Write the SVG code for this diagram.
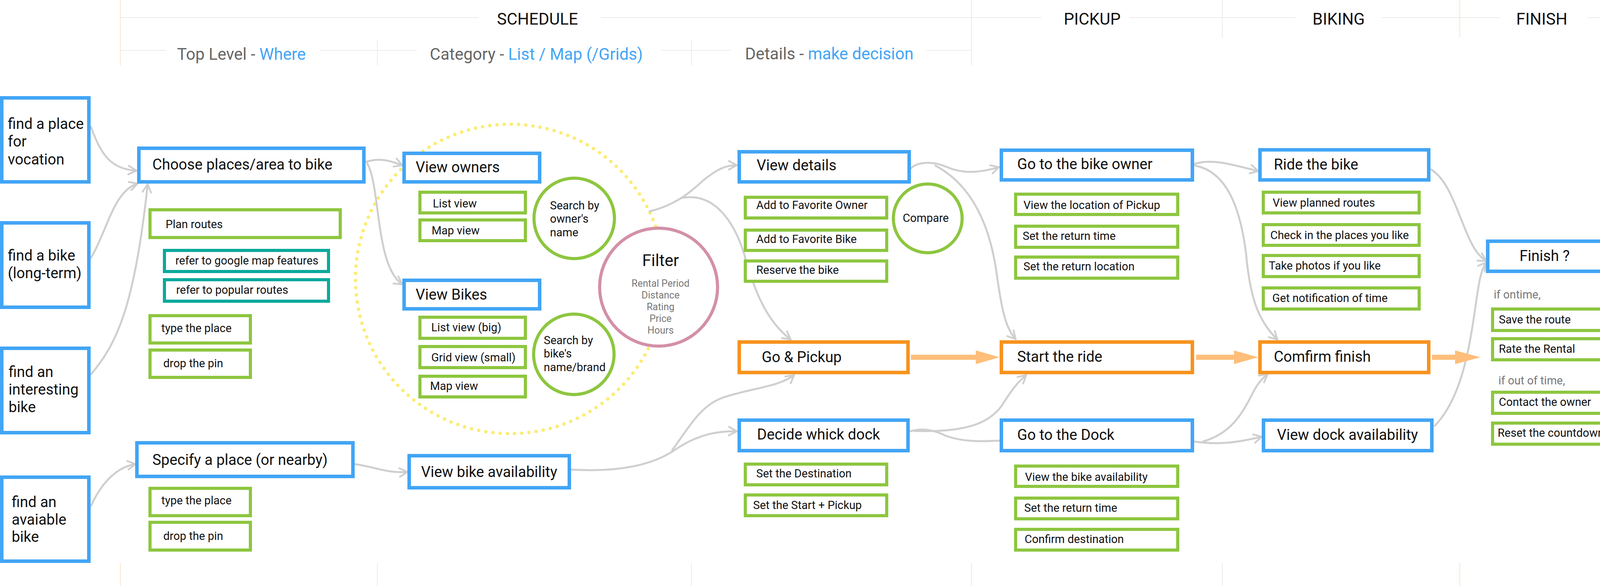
<svg xmlns="http://www.w3.org/2000/svg" width="4188" height="1500" viewBox="0 0 4188 1500">
<style>
text{font-family:Roboto,"Liberation Sans",sans-serif;fill:#111}
.hd{font-size:42px;text-anchor:middle}
.sub{font-size:42px;text-anchor:middle;fill:#666}
.hl{fill:#42A5F5}
.big{font-size:38px}
.sm{font-size:29px}
.gr{fill:#777}
.b{fill:#fff;stroke:#42A5F5;stroke-width:9}
.o{fill:#fff;stroke:#F7931E;stroke-width:9}
.g{fill:#fff;stroke:#8DC63F;stroke-width:8}
.t{fill:#fff;stroke:#0BA99C;stroke-width:8}
.gl{stroke:#ececec;stroke-width:2}
.ol{stroke:#fbe6cc;stroke-width:2}
.vl{stroke:#e6f1dc;stroke-width:2}
.c{fill:none;stroke:#cfcfcf;stroke-width:5;stroke-linecap:round}
.ca{marker-end:url(#ah)}
.oa{fill:#FFBE7A}
</style>
<defs>
<marker id="ah" markerUnits="userSpaceOnUse" markerWidth="30" markerHeight="30" viewBox="0 0 30 30" refX="27" refY="15" orient="auto">
<path d="M7,4 L27,15 L7,26" fill="none" stroke="#cfcfcf" stroke-width="4.5" stroke-linecap="round" stroke-linejoin="round"/>
</marker>
</defs>
<rect width="4188" height="1500" fill="#fff"/>
<g id="grid">
<line class="gl" x1="308" y1="45" x2="1224" y2="45"/>
<line class="gl" x1="1538" y1="45" x2="2666" y2="45"/>
<line class="gl" x1="2891" y1="45" x2="3316" y2="45"/>
<line class="gl" x1="3537" y1="45" x2="3841" y2="45"/>
<line class="gl" x1="4063" y1="45" x2="4159" y2="45"/>
<line class="gl" x1="308" y1="129" x2="425" y2="129"/>
<line class="gl" x1="820" y1="129" x2="1067" y2="129"/>
<line class="gl" x1="1692" y1="129" x2="1871" y2="129"/>
<line class="gl" x1="2371" y1="129" x2="2487" y2="129"/>
<line class="ol" x1="308" y1="0" x2="308" y2="167"/>
<line class="gl" x1="966" y1="103" x2="966" y2="167"/>
<line class="vl" x1="1770" y1="103" x2="1770" y2="167"/>
<line class="ol" x1="2487" y1="0" x2="2487" y2="167"/>
<line class="gl" x1="3129" y1="0" x2="3129" y2="96"/>
<line class="ol" x1="3737" y1="0" x2="3737" y2="96"/>
<line class="ol" x1="4162" y1="0" x2="4162" y2="167"/>
<line class="ol" x1="308" y1="1441" x2="308" y2="1500"/>
<line class="gl" x1="966" y1="1441" x2="966" y2="1500"/>
<line class="vl" x1="1770" y1="1441" x2="1770" y2="1500"/>
<line class="ol" x1="2487" y1="1441" x2="2487" y2="1500"/>
<line class="gl" x1="3129" y1="1441" x2="3129" y2="1500"/>
<line class="ol" x1="3737" y1="1441" x2="3737" y2="1500"/>
<line class="ol" x1="4162" y1="1441" x2="4162" y2="1500"/>
</g>
<g id="headers">
<text class="hd" x="1376" y="63">SCHEDULE</text>
<text class="hd" x="2796" y="63">PICKUP</text>
<text class="hd" x="3427" y="63">BIKING</text>
<text class="hd" x="3947" y="63">FINISH</text>
<text class="sub" x="618" y="153">Top Level - <tspan class="hl">Where</tspan></text>
<text class="sub" x="1373" y="153">Category - <tspan class="hl">List / Map (/Grids)</tspan></text>
<text class="sub" x="2123" y="152">Details - <tspan class="hl">make decision</tspan></text>
</g>
<g id="category-circle">
<circle cx="1306" cy="714" r="396" fill="none" stroke="#FCEC74" stroke-width="9" stroke-dasharray="0 18.5" stroke-linecap="round"/>
</g>
<g id="connectors">
<path class="c ca" d="M233,325 C260,400 285,432 349,437"/>
<path class="c ca" d="M233,660 C275,590 290,490 352,470"/>
<path class="c ca" d="M233,958 C300,880 345,780 378,472"/>
<path class="c ca" d="M233,1295 C260,1235 300,1195 347,1188"/>
<path class="c ca" d="M908,1188 C960,1195 990,1212 1043,1208"/>
<path class="c ca" d="M938,414 C975,403 1000,412 1030,423"/>
<path class="c ca" d="M940,418 C975,480 960,680 1030,728"/>
<path class="c ca" d="M1462,1202 C1600,1210 1680,1185 1730,1150 C1790,1110 1840,1103 1886,1104"/>
<path class="c ca" d="M1721,1152 C1760,1100 1790,1040 1850,1018 C1920,994 1995,990 2033,960"/>
<path class="c ca" d="M1663,541 C1730,525 1770,490 1800,462 C1840,430 1860,423 1886,423"/>
<path class="c ca" d="M1743,507 C1830,490 1880,570 1905,650 C1930,740 1960,820 2024,869"/>
<path class="c ca" d="M2330,433 C2345,415 2385,410 2425,428 C2465,445 2505,443 2557,428"/>
<path class="c ca" d="M2395,424 C2480,470 2530,560 2550,690 C2565,800 2575,840 2600,868"/>
<path class="c" d="M2330,1104 C2360,1095 2390,1100 2420,1115 C2465,1132 2510,1130 2559,1128"/>
<path class="c ca" d="M2340,1103 C2480,1108 2540,1080 2570,1030 C2595,990 2610,975 2627,960"/>
<path class="c ca" d="M3057,420 C3100,405 3150,420 3221,438"/>
<path class="c ca" d="M3060,424 C3140,440 3175,530 3190,650 C3200,760 3220,820 3270,869"/>
<path class="c ca" d="M3057,1130 C3120,1140 3170,1132 3230,1118"/>
<path class="c ca" d="M3080,1130 C3150,1110 3180,1060 3205,1010 C3220,980 3232,968 3245,958"/>
<path class="c ca" d="M3662,433 C3700,455 3720,510 3740,560 C3760,610 3775,650 3805,668"/>
<path class="c ca" d="M3673,1090 C3740,1020 3760,900 3775,800 C3785,730 3790,690 3805,672"/>
<polygon class="oa" points="2332,908 2498,908 2498,897 2559,914.5 2498,932 2498,921 2332,921"/>
<polygon class="oa" points="3062,908 3159,908 3159,897 3221,914.5 3159,932 3159,921 3062,921"/>
<polygon class="oa" points="3666,908 3725,908 3725,897 3790,914.5 3725,932 3725,921 3666,921"/>
</g>
<g id="find-place"><rect class="b" x="4.5" y="250.5" width="223" height="215"/><text class="big" x="20" y="330">find a place</text><text class="big" x="20" y="375">for</text><text class="big" x="20" y="421">vocation</text></g>
<g id="find-bike"><rect class="b" x="4.5" y="570.5" width="223" height="216"/><text class="big" x="20" y="667">find a bike</text><text class="big" x="20" y="712">(long-term)</text></g>
<g id="find-interesting"><rect class="b" x="4.5" y="891.5" width="223" height="216"/><text class="big" x="22" y="965">find an</text><text class="big" x="22" y="1010">interesting</text><text class="big" x="22" y="1055">bike</text></g>
<g id="find-available"><rect class="b" x="4.5" y="1221.5" width="223" height="215"/><text class="big" x="30" y="1298">find an</text><text class="big" x="30" y="1343">avaiable</text><text class="big" x="30" y="1387">bike</text></g>
<g id="choose-places"><rect class="b" x="355.5" y="379.5" width="576" height="86"/><text class="big" x="390" y="434">Choose places/area to bike</text></g>
<g id="plan-routes"><rect class="g" x="384" y="537" width="487" height="71"/><text class="sm" x="424" y="584">Plan routes</text></g>
<g id="ref-google"><rect class="t" x="421" y="641" width="420" height="54"/><text class="sm" x="449" y="677">refer to google map features</text></g>
<g id="ref-popular"><rect class="t" x="421" y="716" width="420" height="55"/><text class="sm" x="451" y="752">refer to popular routes</text></g>
<g id="type-place-1"><rect class="g" x="384" y="808" width="257" height="70"/><text class="sm" x="413" y="850">type the place</text></g>
<g id="drop-pin-1"><rect class="g" x="384" y="896" width="257" height="70"/><text class="sm" x="418" y="940">drop the pin</text></g>
<g id="specify-place"><rect class="b" x="350.5" y="1133.5" width="553" height="86"/><text class="big" x="390" y="1190">Specify a place (or nearby)</text></g>
<g id="type-place-2"><rect class="g" x="384" y="1250" width="257" height="70"/><text class="sm" x="413" y="1291">type the place</text></g>
<g id="drop-pin-2"><rect class="g" x="384" y="1337" width="257" height="71"/><text class="sm" x="418" y="1382">drop the pin</text></g>
<g id="view-owners"><rect class="b" x="1034.5" y="392.5" width="347" height="73"/><text class="big" x="1064" y="441">View owners</text></g>
<g id="owners-list"><rect class="g" x="1075" y="492" width="270" height="53"/><text class="sm" x="1108" y="531">List view</text></g>
<g id="owners-map"><rect class="g" x="1075" y="563" width="270" height="53"/><text class="sm" x="1105" y="600">Map view</text></g>
<g id="search-owner"><circle class="g" cx="1470" cy="559" r="103"/><text class="sm" x="1408" y="536">Search by</text><text class="sm" x="1408" y="570">owner's</text><text class="sm" x="1408" y="605">name</text></g>
<g id="view-bikes"><rect class="b" x="1034.5" y="717.5" width="347" height="73"/><text class="big" x="1064" y="767">View Bikes</text></g>
<g id="bikes-list"><rect class="g" x="1075" y="812" width="270" height="54"/><text class="sm" x="1104" y="848">List view (big)</text></g>
<g id="bikes-grid"><rect class="g" x="1075" y="887" width="270" height="54"/><text class="sm" x="1104" y="925">Grid view (small)</text></g>
<g id="bikes-map"><rect class="g" x="1075" y="963" width="270" height="53"/><text class="sm" x="1101" y="998">Map view</text></g>
<g id="search-bike"><circle class="g" cx="1469" cy="907" r="103"/><text class="sm" x="1392" y="881">Search by</text><text class="sm" x="1392" y="915">bike's</text><text class="sm" x="1392" y="950">name/brand</text></g>
<g id="filter"><circle cx="1686" cy="735" r="151" fill="#fff" stroke="#D390A8" stroke-width="8"/><text x="1691" y="681" font-size="42" text-anchor="middle">Filter</text><g font-size="25" text-anchor="middle"><text class="gr" x="1691" y="734">Rental Period</text><text class="gr" x="1691" y="764">Distance</text><text class="gr" x="1691" y="794">Rating</text><text class="gr" x="1691" y="824">Price</text><text class="gr" x="1691" y="854">Hours</text></g></g>
<g id="view-bike-availability"><rect class="b" x="1047.5" y="1166.5" width="410" height="82"/><text class="big" x="1078" y="1221">View bike availability</text></g>
<g id="view-details"><rect class="b" x="1892.5" y="388.5" width="435" height="77"/><text class="big" x="1937" y="436">View details</text></g>
<g id="fav-owner"><rect class="g" x="1908" y="505" width="362" height="53"/><text class="sm" x="1936" y="535">Add to Favorite Owner</text></g>
<g id="fav-bike"><rect class="g" x="1908" y="589" width="362" height="52"/><text class="sm" x="1936" y="622">Add to Favorite Bike</text></g>
<g id="reserve"><rect class="g" x="1908" y="668" width="362" height="52"/><text class="sm" x="1936" y="701">Reserve the bike</text></g>
<g id="compare"><circle class="g" cx="2375" cy="559" r="88"/><text class="sm" x="2370" y="568" text-anchor="middle">Compare</text></g>
<g id="go-pickup"><rect class="o" x="1892.5" y="875.5" width="432" height="78"/><text class="big" x="1950" y="927">Go &amp; Pickup</text></g>
<g id="decide-dock"><rect class="b" x="1892.5" y="1075.5" width="432" height="78"/><text class="big" x="1938" y="1125">Decide whick dock</text></g>
<g id="set-destination"><rect class="g" x="1908" y="1188" width="362" height="53"/><text class="sm" x="1936" y="1222">Set the Destination</text></g>
<g id="set-start"><rect class="g" x="1908" y="1267" width="362" height="53"/><text class="sm" x="1928" y="1303">Set the Start + Pickup</text></g>
<g id="go-owner"><rect class="b" x="2563.5" y="384.5" width="489" height="76"/><text class="big" x="2604" y="433">Go to the bike owner</text></g>
<g id="pickup-location"><rect class="g" x="2600" y="497" width="415" height="52"/><text class="sm" x="2620" y="535">View the location of Pickup</text></g>
<g id="return-time-1"><rect class="g" x="2600" y="579" width="415" height="54"/><text class="sm" x="2618" y="614">Set the return time</text></g>
<g id="return-location"><rect class="g" x="2600" y="658" width="415" height="54"/><text class="sm" x="2620" y="692">Set the return location</text></g>
<g id="start-ride"><rect class="o" x="2563.5" y="875.5" width="489" height="78"/><text class="big" x="2604" y="926">Start the ride</text></g>
<g id="go-dock"><rect class="b" x="2563.5" y="1075.5" width="489" height="78"/><text class="big" x="2604" y="1126">Go to the Dock</text></g>
<g id="bike-availability"><rect class="g" x="2600" y="1193" width="415" height="52"/><text class="sm" x="2624" y="1231">View the bike availability</text></g>
<g id="return-time-2"><rect class="g" x="2600" y="1275" width="415" height="53"/><text class="sm" x="2622" y="1310">Set the return time</text></g>
<g id="confirm-destination"><rect class="g" x="2600" y="1355" width="415" height="53"/><text class="sm" x="2623" y="1390">Confirm destination</text></g>
<g id="ride-bike"><rect class="b" x="3225.5" y="383.5" width="432" height="77"/><text class="big" x="3261" y="434">Ride the bike</text></g>
<g id="planned-routes"><rect class="g" x="3234" y="492" width="399" height="53"/><text class="sm" x="3258" y="529">View planned routes</text></g>
<g id="check-in"><rect class="g" x="3234" y="575" width="399" height="53"/><text class="sm" x="3252" y="612">Check in the places you like</text></g>
<g id="take-photos"><rect class="g" x="3234" y="654" width="399" height="54"/><text class="sm" x="3248" y="690">Take photos if you like</text></g>
<g id="notification"><rect class="g" x="3234" y="737" width="399" height="54"/><text class="sm" x="3257" y="773">Get notification of time</text></g>
<g id="confirm-finish"><rect class="o" x="3225.5" y="875.5" width="432" height="78"/><text class="big" x="3261" y="926">Comfirm finish</text></g>
<g id="view-dock"><rect class="b" x="3234.5" y="1075.5" width="431" height="78"/><text class="big" x="3269" y="1126">View dock availability</text></g>
<g id="finish"><rect class="b" x="3808.5" y="617.5" width="349" height="77"/><text class="big" x="3890" y="668">Finish ?</text></g>
<g id="finish-options"><text class="sm gr" x="3824" y="764">if ontime,</text><text class="sm gr" x="3836" y="984">if out of time,</text></g>
<g id="save-route"><rect class="g" x="3821" y="791" width="312" height="55"/><text class="sm" x="3837" y="828">Save the route</text></g>
<g id="rate-rental"><rect class="g" x="3821" y="867" width="312" height="54"/><text class="sm" x="3837" y="903">Rate the Rental</text></g>
<g id="contact-owner"><rect class="g" x="3821" y="1004" width="312" height="54"/><text class="sm" x="3837" y="1039">Contact the owner</text></g>
<g id="reset-countdown"><rect class="g" x="3821" y="1083" width="312" height="54"/><text class="sm" x="3834" y="1118" font-size="26">Reset the countdown</text></g>
</svg>
